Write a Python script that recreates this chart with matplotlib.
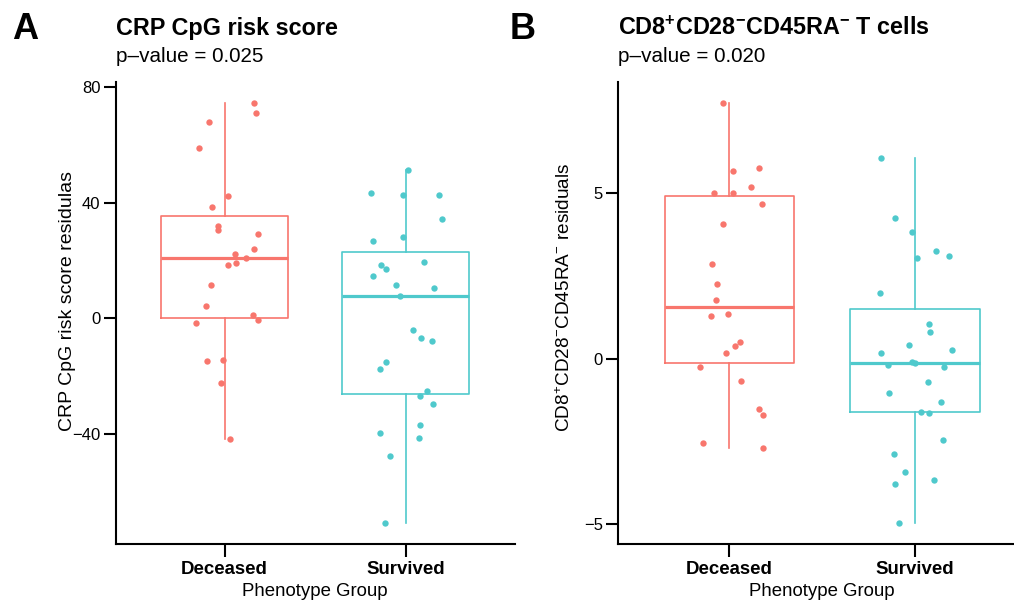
import matplotlib
matplotlib.use("Agg")
import matplotlib.pyplot as plt
import numpy as np

plt.rcParams['font.family'] = ['Liberation Sans', 'DejaVu Sans']
plt.rcParams['mathtext.fontset'] = 'custom'
plt.rcParams['mathtext.rm'] = 'Liberation Sans'
plt.rcParams['mathtext.bf'] = 'Liberation Sans:bold'
plt.rcParams['mathtext.it'] = 'Liberation Sans:italic'

groups = ["Deceased", "Survived"]
colors = ["#F8766D", "#4FC9CC"]

# Panel A: CRP CpG risk score residuals
crp_deceased = [74.5, 70.9, 67.8, 58.7, 42.4, 38.5, 32.1, 30.5, 29.2, 24.0, 22.3, 20.8,
                19.1, 18.3, 11.5, 4.4, 1.1, -0.5, -1.7, -14.8, -14.3, -22.3, -41.7]
crp_deceased_jit = [0.161, 0.176, -0.084, -0.141, 0.020, -0.070, -0.037, -0.035, 0.182, 0.161,
                    0.057, 0.116, 0.062, 0.017, -0.073, -0.101, 0.158, 0.183, -0.158, -0.094,
                    -0.009, -0.018, 0.029]
crp_survived = [51.4, 43.2, 42.8, 42.8, 34.4, 28.3, 26.7, 19.4, 18.6, 17.0, 14.7, 11.7, 10.4, 7.8,
                -4.0, -6.8, -7.6, -15.1, -17.4, -25.2, -26.9, -29.4, -36.6, -39.6, -41.4, -47.6, -70.6]
crp_survived_jit = [0.011, -0.191, -0.017, 0.185, 0.198, -0.015, -0.182, 0.102, -0.137, -0.108,
                    -0.182, -0.053, 0.156, -0.035, 0.038, 0.084, 0.143, -0.107, -0.145, 0.117,
                    0.077, 0.152, 0.077, -0.143, 0.072, -0.085, -0.114]

# Panel B: CD8+CD28-CD45RA- T cells residuals
cd8_deceased = [7.72, 5.74, 5.67, 5.19, 5.00, 5.01, 4.66, 4.05, 2.84, 2.24, 1.78,
                1.27, 1.34, 0.49, 0.38, 0.18, -0.25, -0.67, -1.53, -1.70, -2.55, -2.71]
cd8_deceased_jit = [-0.036, 0.157, 0.018, 0.115, -0.084, 0.020, 0.176, -0.034, -0.095, -0.070,
                    -0.072, -0.100, -0.009, 0.056, 0.029, -0.019, -0.159, 0.062, 0.160, 0.181,
                    -0.141, 0.183]
cd8_survived = [6.05, 4.24, 3.82, 3.26, 3.10, 3.04, 1.97, 1.04, 0.79, 0.42, 0.27, 0.18, -0.09,
                -0.14, -0.20, -0.24, -0.71, -1.05, -1.32, -1.60, -1.64, -2.47, -2.88, -3.42,
                -3.66, -3.78, -4.96]
cd8_survived_jit = [-0.183, -0.108, -0.016, 0.117, 0.185, 0.011, -0.190, 0.077, 0.082, -0.034,
                    0.198, -0.183, -0.015, 0.000, -0.143, 0.155, 0.070, -0.140, 0.141, 0.036,
                    0.077, 0.152, -0.113, -0.052, 0.104, -0.108, -0.086]

W, H = 1014, 600
fig = plt.figure(figsize=(W / 100, H / 100), dpi=100)


def px_axes(left, right, top, bottom):
    return fig.add_axes([left / W, 1 - bottom / H, (right - left) / W, (bottom - top) / H])


def draw_panel(ax, data, jits, ylabel, yticks, ylabel_x, ylabel_y, ylabel_size):
    for i, (vals, jit, col) in enumerate(zip(data, jits, colors)):
        pos = i + 1
        ax.boxplot([vals], positions=[pos], widths=0.7, whis=1.5, showfliers=False,
                   showcaps=False, patch_artist=False,
                   boxprops=dict(color=col, linewidth=1.2),
                   whiskerprops=dict(color=col, linewidth=1.2),
                   medianprops=dict(color=col, linewidth=2.3, solid_capstyle='butt'))
        ax.scatter(np.array(jit) + pos, vals, s=21, color=col, zorder=3, linewidths=0)
    ax.set_xlim(0.4, 2.6)
    allv = np.concatenate([np.array(d, float) for d in data])
    lo, hi = allv.min(), allv.max()
    pad = 0.05 * (hi - lo)
    ax.set_ylim(lo - pad, hi + pad)
    ax.set_yticks(yticks)
    ax.set_yticklabels([str(t).replace('-', '\u2212') for t in yticks])
    ax.set_xticks([1, 2])
    ax.set_xticklabels(groups, fontweight='bold', fontsize=13.4)
    for s in ['top', 'right']:
        ax.spines[s].set_visible(False)
    for s in ['left', 'bottom']:
        ax.spines[s].set_linewidth(1.5)
    ax.tick_params(axis='both', length=9, width=1.5, color='black')
    ax.tick_params(axis='y', labelsize=12, pad=2)
    ax.tick_params(axis='x', pad=3)
    ax.set_xlabel("Phenotype Group", fontsize=13.4, labelpad=3.5)
    ax.set_ylabel(ylabel, fontsize=ylabel_size)
    # place the (rotated) y label: right edge at ylabel_x px, centre at ylabel_y px
    pos_ = ax.get_position()
    x0, w = pos_.x0 * W, pos_.width * W
    ybot, h = (1 - pos_.y0) * H, pos_.height * H
    ax.yaxis.set_label_coords((ylabel_x - x0) / w, (ybot - ylabel_y) / h)
    ax.set_facecolor('none')


axA = px_axes(115.7, 514.7, 81.7, 544)
draw_panel(axA, [crp_deceased, crp_survived], [crp_deceased_jit, crp_survived_jit],
           "CRP CpG risk score residulas", [-40, 0, 40, 80], 75.5, 301, 14)

axB = px_axes(618.3, 1026, 81.7, 544)
draw_panel(axB, [cd8_deceased, cd8_survived], [cd8_deceased_jit, cd8_survived_jit],
           r"CD8$^{+}$CD28$^{-}$CD45RA$^{-}$ residuals", [-5, 0, 5], 574, 297, 13.7)

# Titles and panel letters
fig.text(115.7 / W, 1 - 34.5 / H, "CRP CpG risk score", fontsize=16.8, fontweight='bold',
         ha='left', va='baseline')
fig.text(115.7 / W, 1 - 62.5 / H, "p\u2013value = 0.025", fontsize=14.9, ha='left', va='baseline')
fig.text(12 / W, 1 - 39 / H, "A", fontsize=26, fontweight='bold', ha='left', va='baseline')

fig.text(618.5 / W, 1 - 34.5 / H,
         r"CD8$^{\mathbf{+}}$CD28$^{\mathbf{-}}$CD45RA$^{\mathbf{-}}$ T cells",
         fontsize=16.8, fontweight='bold', ha='left', va='baseline')
fig.text(618.5 / W, 1 - 62.5 / H, "p\u2013value = 0.020", fontsize=14.9, ha='left', va='baseline')
fig.text(510 / W, 1 - 39 / H, "B", fontsize=26, fontweight='bold', ha='left', va='baseline')

fig.savefig("out.png", dpi=100, facecolor='white')
